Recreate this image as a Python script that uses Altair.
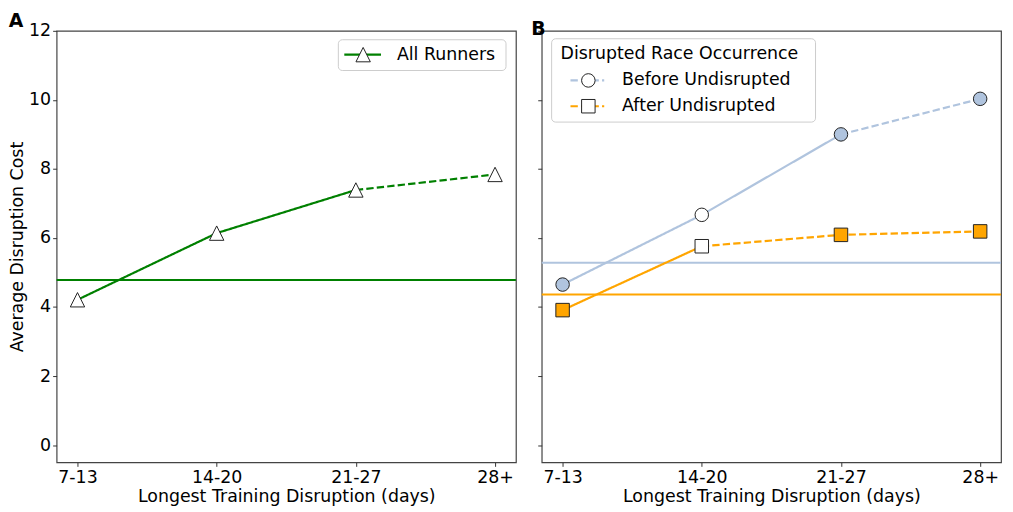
import altair as alt
import pandas as pd

# ---- data ----
categories = ["7-13", "14-20", "21-27", "28+"]
all_runners = [4.21, 6.14, 7.39, 7.84]
all_runners_baseline = 4.78
before_undisrupted = [4.65, 6.67, 9.00, 10.03]
after_undisrupted = [3.91, 5.76, 6.09, 6.19]
before_baseline = 5.28
after_baseline = 4.36
y_ticks = [0, 2, 4, 6, 8, 10, 12]

GREEN = "#008000"
BLUE = "#b0c4de"
ORANGE = "#ffa500"
EDGE = "#222222"
FONT = "DejaVu Sans"
FS = 17.5
W, H = 463, 435
TRI = "M0,-1L1,1L-1,1Z"


def segments(name, values, solid_end):
    rows = []
    for i in range(0, solid_end + 1):
        rows.append(dict(series=name, seg=name + "-solid", dash="solid",
                         cat=categories[i], idx=i, value=values[i]))
    for i in range(solid_end, len(values)):
        rows.append(dict(series=name, seg=name + "-dashed", dash="dashed",
                         cat=categories[i], idx=i, value=values[i]))
    return pd.DataFrame(rows)


def points(values, fills):
    return pd.DataFrame({"cat": categories, "value": values, "fill": fills})


x_enc = alt.X("cat:N", sort=categories,
              scale=alt.Scale(type="point", domain=categories, padding=0.15),
              axis=alt.Axis(title="Longest Training Disruption (days)", labelAngle=0))


def y_enc(show_labels):
    return alt.Y("value:Q",
                 scale=alt.Scale(domain=[-0.5, 12], nice=False, zero=False),
                 axis=alt.Axis(values=y_ticks, labels=show_labels,
                               title="Average Disruption Cost" if show_labels else None))


dash_scale = alt.Scale(domain=["solid", "dashed"], range=[[1, 0], [7.4, 3.2]])


def line_layer(df, color, show):
    return alt.Chart(df).mark_line(color=color, strokeWidth=2.2).encode(
        x=x_enc, y=y_enc(show), detail="seg:N",
        strokeDash=alt.StrokeDash("dash:N", scale=dash_scale, legend=None),
        order=alt.Order("idx:Q"))


def point_layer(df, shape, size, show):
    return alt.Chart(df).mark_point(shape=shape, size=size, filled=True, stroke=EDGE,
                                    strokeWidth=1, opacity=1).encode(
        x=x_enc, y=y_enc(show), fill=alt.Fill("fill:N", scale=None))


def hline(value, color, show):
    return alt.Chart(pd.DataFrame({"value": [value]})).mark_rule(
        color=color, strokeWidth=2).encode(y=y_enc(show))


one = pd.DataFrame({"k": [0]})


def box(x1, x2, y1, y2):
    return alt.Chart(one).mark_rect(fill="white", fillOpacity=0.8, stroke="#cccccc",
                                    strokeWidth=1, cornerRadius=4).encode(
        x=alt.value(x1), x2=alt.value(x2), y=alt.value(y1), y2=alt.value(y2))


def leg_line(x1, x2, y, color, dash=None):
    kw = dict(color=color, strokeWidth=2.2)
    if dash:
        kw["strokeDash"] = dash
    return alt.Chart(one).mark_rule(**kw).encode(
        x=alt.value(x1), x2=alt.value(x2), y=alt.value(y))


def leg_marker(x, y, shape, size):
    return alt.Chart(one).mark_point(shape=shape, size=size, filled=True, fill="white",
                                     stroke=EDGE, strokeWidth=1, opacity=1).encode(
        x=alt.value(x), y=alt.value(y))


def leg_text(x, y, txt):
    return alt.Chart(one).mark_text(text=txt, align="left", baseline="middle",
                                    font=FONT, fontSize=FS, color="black").encode(
        x=alt.value(x), y=alt.value(y))


# ---- panel A ----
seg_all = segments("All Runners", all_runners, 2)
pts_all = points(all_runners, ["white"] * 4)

left = alt.layer(
    hline(all_runners_baseline, GREEN, True),
    line_layer(seg_all, GREEN, True),
    point_layer(pts_all, TRI, 210, True),
    box(W - 179, W - 10, 9, 40),
    leg_line(W - 173, W - 136, 24, GREEN),
    leg_marker(W - 154, 24, TRI, 210),
    leg_text(W - 120, 24, "All Runners"),
).properties(width=W, height=H,
             title=alt.TitleParams("A", anchor="start", frame="bounds", fontSize=19,
                                   fontWeight="bold", font=FONT, offset=-9, color="black"))

# ---- panel B ----
seg_before = segments("Before Undisrupted", before_undisrupted, 2)
seg_after = segments("After Undisrupted", after_undisrupted, 1)
pts_before = points(before_undisrupted, [BLUE, "white", BLUE, BLUE])
pts_after = points(after_undisrupted, [ORANGE, "white", ORANGE, ORANGE])

right = alt.layer(
    hline(before_baseline, BLUE, False),
    hline(after_baseline, ORANGE, False),
    line_layer(seg_before, BLUE, False),
    line_layer(seg_after, ORANGE, False),
    point_layer(pts_before, "circle", 185, False),
    point_layer(pts_after, "square", 185, False),
    box(10, 276, 8, 92),
    leg_text(19, 23, "Disrupted Race Occurrence"),
    leg_line(29, 63, 50, BLUE, [7.4, 3.2]),
    leg_marker(47, 50, "circle", 185),
    leg_text(81, 50, "Before Undisrupted"),
    leg_line(29, 63, 76, ORANGE, [7.4, 3.2]),
    leg_marker(47, 76, "square", 185),
    leg_text(81, 76, "After Undisrupted"),
).properties(width=W, height=H,
             title=alt.TitleParams("B", anchor="start", frame="bounds", fontSize=19,
                                   fontWeight="bold", font=FONT, offset=-9, dx=-6,
                                   color="black"))

chart = alt.hconcat(left, right, spacing=12).properties(
    padding={"left": 0, "right": 2, "top": 1, "bottom": 0},
    background="white"
).configure_view(
    stroke="#444444", strokeWidth=1.2
).configure_axis(
    grid=False, domain=False, tickColor="#333333", tickSize=4, tickWidth=1,
    labelFont=FONT, labelFontSize=FS, labelColor="black", labelPadding=2,
    titleFont=FONT, titleFontSize=FS, titleColor="black", titleFontWeight="normal",
    titlePadding=2
)

chart.save("out.html", embed_options={"renderer": "svg", "actions": False})
